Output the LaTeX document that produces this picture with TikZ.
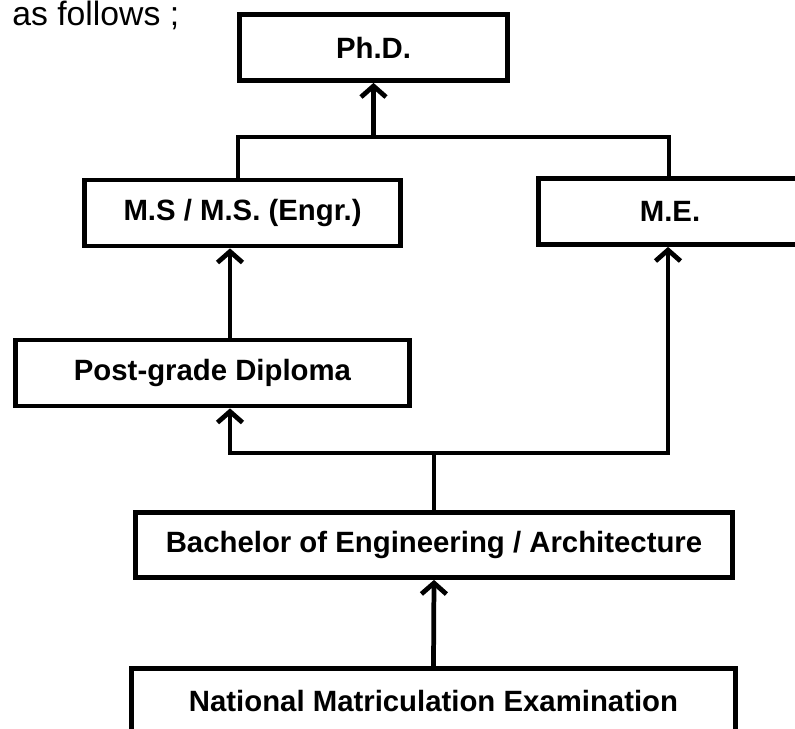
\documentclass[tikz,border=0pt]{standalone}
\usepackage{fontspec}
\setmainfont{Liberation Sans}
\usetikzlibrary{arrows.meta}

\begin{document}
\begin{tikzpicture}[x=0.02cm,y=-0.02cm,>={Straight Barb[length=2.2mm,width=5mm]},line width=2.7pt,
  box/.style={draw,rectangle,inner sep=0pt,font=\bfseries\fontsize{16.7}{20}\selectfont}]
\useasboundingbox (0,0) rectangle (795,728);
\clip (0,0) rectangle (795,728);
\node[anchor=base west,inner sep=0pt,font=\fontsize{19.2}{23}\selectfont] (intro) at (10,25) {as follows ;};
\node[box,minimum width=5.36cm,minimum height=1.32cm] (phd) at (373.5,47.5) {Ph.D.};
\node[box,minimum width=6.32cm,minimum height=1.32cm] (ms) at (242.5,213) {M.S / M.S. (Engr.)};
\node[box,minimum width=5.26cm,minimum height=1.32cm] (me) at (670,211.5) {M.E.};
\node[box,minimum width=7.88cm,minimum height=1.32cm] (pgd) at (212.5,373) {Post-grade Diploma};
\node[box,minimum width=11.94cm,minimum height=1.3cm] (bach) at (434,545) {Bachelor of Engineering / Architecture};
\node[box,minimum width=12.08cm,minimum height=1.3cm] (nme) at (433.5,701) {National Matriculation Examination};
\coordinate (tl) at (238,137);
\coordinate (tr) at (669,137);
\coordinate (bl) at (230,453);
\coordinate (br) at (668,453);
\draw (ms.north -| tl) -- (tl) -- (tr) -- (me.north -| tr);
\draw[->] (phd.south |- tl) -- (phd.south);
\draw[->] (pgd.north -| bl) -- (ms.south -| bl);
\draw (bach.north) -- (bach.north |- bl);
\draw[->] (br) -- (bl) -- (pgd.south -| bl);
\draw[->] (bl) -- (br) -- (me.south -| br);
\draw[->] (nme.north) -- (bach.south);
\end{tikzpicture}
\end{document}
